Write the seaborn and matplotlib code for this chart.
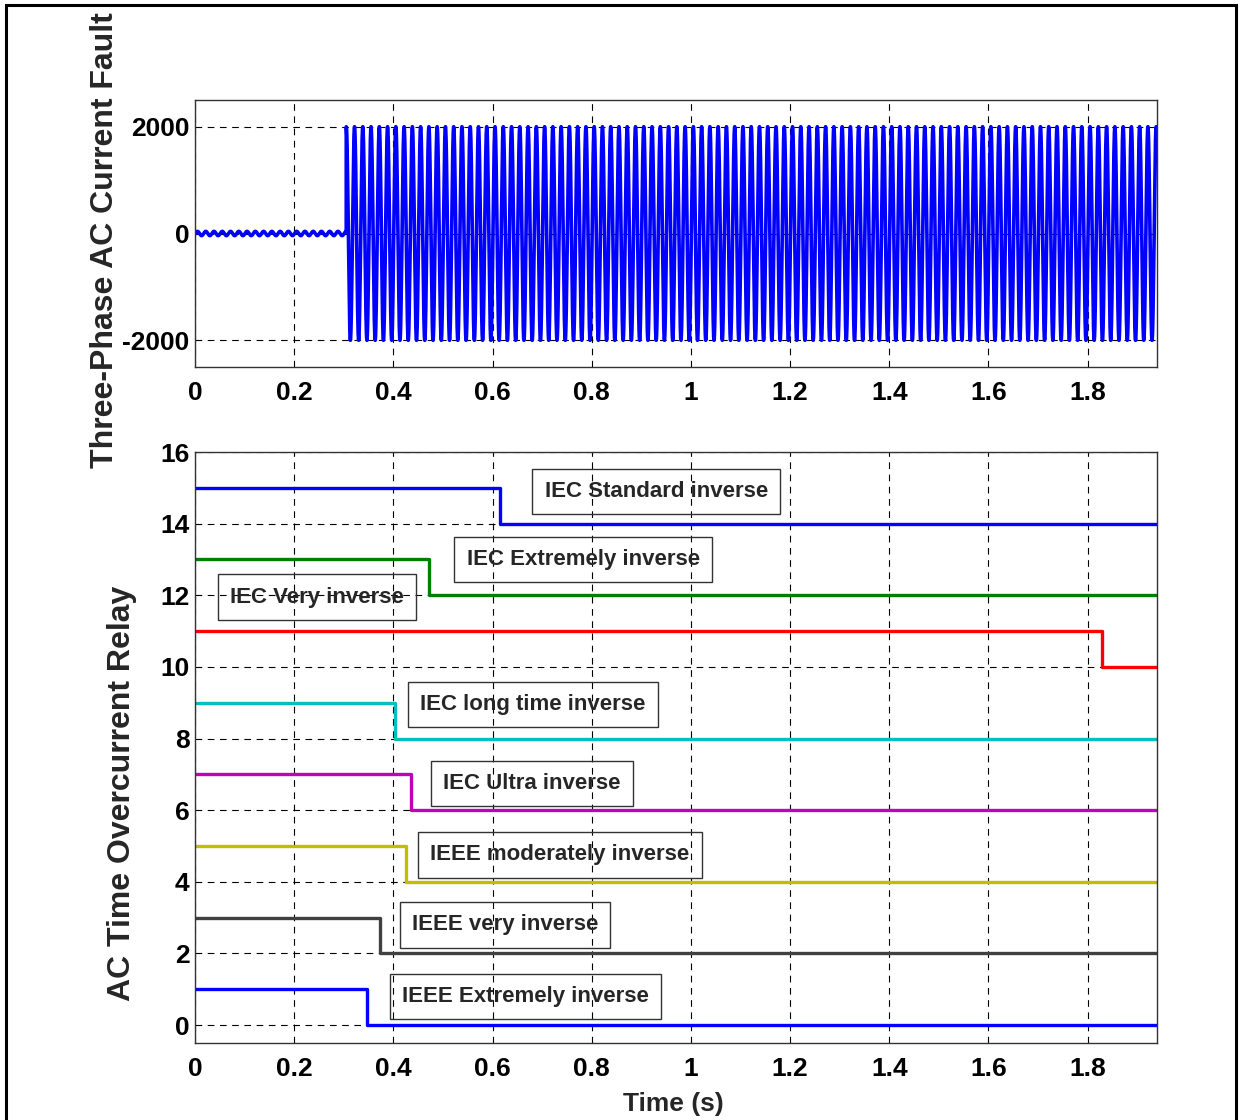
import numpy as np
import pandas as pd
import matplotlib
matplotlib.use("Agg")
import matplotlib.pyplot as plt
from matplotlib.patches import Rectangle
import seaborn as sns

# ---- fault current waveform parameters ----
fault_time = 0.305        # s, fault inception
line_freq = 60.0          # Hz
prefault_amp = 40.0       # A, load current ripple before the fault
fault_amp = 2000.0        # A, fault current peak
t_end = 1.94              # s

# ---- relay trip signals (high level before trip, low level after) ----
relay_names = [
    "IEC Standard inverse",
    "IEC Extremely inverse",
    "IEC short time inverse",
    "IEC long time inverse",
    "IEC Ultra inverse",
    "IEEE moderately inverse",
    "IEEE very inverse",
    "IEEE Extremely inverse",
]
relay_high = [15, 13, 11, 9, 7, 5, 3, 1]
relay_low = [14, 12, 10, 8, 6, 4, 2, 0]
relay_trip_time = [0.615, 0.472, 1.830, 0.403, 0.435, 0.425, 0.373, 0.347]
relay_colors = ["#0000ff", "#008000", "#ff0000", "#00bfbf",
                "#bf00bf", "#bfbf00", "#404040", "#0000ff"]

# annotation boxes: (label, x in s, y level)
label_text = ["IEC Standard inverse", "IEC Extremely inverse", "IEC Very inverse",
              "IEC long time inverse", "IEC Ultra inverse",
              "IEEE moderately inverse", "IEEE very inverse", "IEEE Extremely inverse"]
label_x = [0.930, 0.783, 0.246, 0.681, 0.679, 0.736, 0.625, 0.667]
label_y = [14.9, 13.0, 11.95, 8.95, 6.75, 4.75, 2.8, 0.8]

xticks = [0, 0.2, 0.4, 0.6, 0.8, 1.0, 1.2, 1.4, 1.6, 1.8]
xtick_labels = ["0", "0.2", "0.4", "0.6", "0.8", "1", "1.2", "1.4", "1.6", "1.8"]
top_yticks = [-2000, 0, 2000]
bottom_yticks = [0, 2, 4, 6, 8, 10, 12, 14, 16]

sns.set_theme(style="white")
face = ["Liberation Sans", "DejaVu Sans"]
plt.rcParams["font.family"] = face
plt.rcParams["font.weight"] = "bold"

fig = plt.figure(figsize=(12.4, 11.2), dpi=100)
ax1 = fig.add_axes([195 / 1240, 1 - 367 / 1120, 962 / 1240, 267 / 1120])
ax2 = fig.add_axes([195 / 1240, 1 - 1043 / 1120, 962 / 1240, 591 / 1120])

# waveform
t = np.linspace(0, t_end, 40000)
amp = np.where(t < fault_time, prefault_amp, fault_amp)
current = amp * np.sin(2 * np.pi * line_freq * (t - fault_time) + np.pi / 2)
wave = pd.DataFrame({"t": t, "i": current})
sns.lineplot(data=wave, x="t", y="i", ax=ax1, color="#0000ff", lw=2.6,
             estimator=None, sort=False)

# trip signals
rows = []
for name, hi, lo, tt in zip(relay_names, relay_high, relay_low, relay_trip_time):
    rows += [(name, 0.0, hi), (name, tt, lo), (name, t_end, lo)]
trip = pd.DataFrame(rows, columns=["relay", "t", "level"])
sns.lineplot(data=trip, x="t", y="level", hue="relay", hue_order=relay_names,
             palette=relay_colors, ax=ax2, lw=2.4, drawstyle="steps-post",
             estimator=None, sort=False, legend=False)

for txt, x, y in zip(label_text, label_x, label_y):
    ax2.text(x, y, txt, ha="center", va="center", fontsize=16, fontweight="bold",
             bbox=dict(boxstyle="square,pad=0.55", fc="none", ec="#333333", lw=1))

for ax, yt in ((ax1, top_yticks), (ax2, bottom_yticks)):
    ax.set_xlim(0, t_end)
    ax.set_xticks(xticks)
    ax.set_xticklabels(xtick_labels)
    ax.set_yticks(yt)
    ax.set_yticklabels([str(v) for v in yt])
    ax.grid(True, color="black", linestyle=(0, (6, 5)), lw=0.8)
    ax.tick_params(direction="in", length=5, width=0.8, labelsize=19,
                   colors="black")
    ax.tick_params(axis="x", pad=10)
    ax.tick_params(axis="y", pad=4)
    for lab in ax.get_xticklabels() + ax.get_yticklabels():
        lab.set_fontweight("bold")
    for s in ax.spines.values():
        s.set_color("#333333")
        s.set_linewidth(1.0)
    ax.set_xlabel("")
    ax.set_ylabel("")

ax1.set_ylim(-2500, 2500)
ax2.set_ylim(-0.5, 16)

fig.text(105 / 1240, 1 - 240 / 1120, "Three-Phase AC Current Fault", rotation=90,
         ha="center", va="center", fontsize=23, fontweight="bold")
fig.text(122 / 1240, 1 - 793 / 1120, "AC Time Overcurrent Relay", rotation=90,
         ha="center", va="center", fontsize=23, fontweight="bold")
fig.text(673 / 1240, 1 - 1104 / 1120, "Time (s)", ha="center", va="center",
         fontsize=19, fontweight="bold")

# outer frame
fig.patches.append(Rectangle((6 / 1240, -0.05), 1230 / 1240, 1.05 - 5 / 1120,
                             transform=fig.transFigure, fill=False,
                             ec="black", lw=2.2))

fig.savefig("out.png", dpi=100)
